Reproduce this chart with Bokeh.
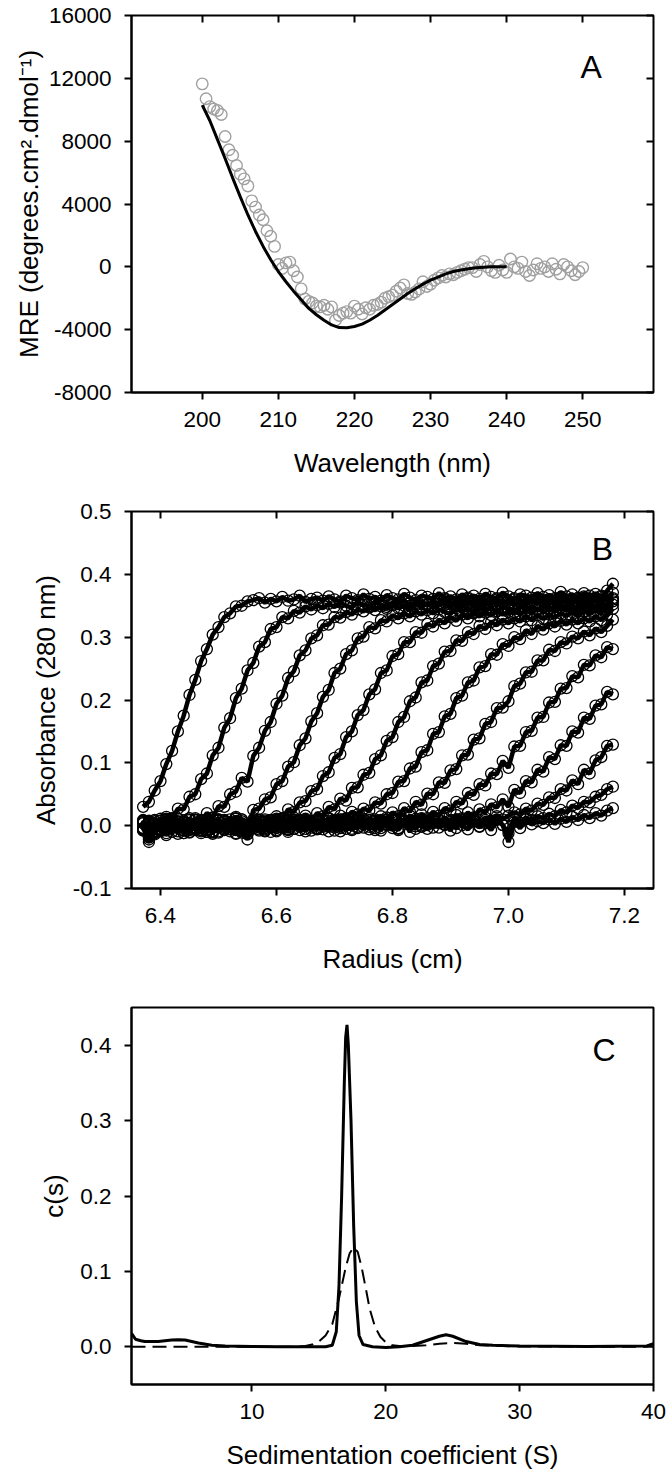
from bokeh.plotting import figure
from bokeh.models import Range1d, LinearAxis, FixedTicker, NumeralTickFormatter, Label, CustomLabelingPolicy
from bokeh.layouts import column
from bokeh.embed import file_html
from bokeh.resources import INLINE

FONT = "Liberation Sans"

# ---------------- Panel A: CD spectrum ----------------
cd_wavelength = [
    200.0, 200.5, 201.0, 201.5, 202.0, 202.5, 203.0, 203.5, 204.0, 204.5,
    205.0, 205.5, 206.0, 206.5, 207.0, 207.5, 208.0, 208.5, 209.0, 209.5,
    210.0, 210.5, 211.0, 211.5, 212.0, 212.5, 213.0, 213.5, 214.0, 214.5,
    215.0, 215.5, 216.0, 216.5, 217.0, 217.5, 218.0, 218.5, 219.0, 219.5,
    220.0, 220.5, 221.0, 221.5, 222.0, 222.5, 223.0, 223.5, 224.0, 224.5,
    225.0, 225.5, 226.0, 226.5, 227.0, 227.5, 228.0, 228.5, 229.0, 229.5,
    230.0, 230.5, 231.0, 231.5, 232.0, 232.5, 233.0, 233.5, 234.0, 234.5,
    235.0, 235.5, 236.0, 236.5, 237.0, 237.5, 238.0, 238.5, 239.0, 239.5,
    240.0, 240.5, 241.0, 241.5, 242.0, 242.5, 243.0, 243.5, 244.0, 244.5,
    245.0, 245.5, 246.0, 246.5, 247.0, 247.5, 248.0, 248.5, 249.0, 249.5,
    250.0]
cd_mre = [
    11650, 10700, 10200, 10050, 9950, 9700, 8300, 7450, 7100, 6450,
    5900, 5600, 5150, 4200, 3800, 3300, 3000, 2300, 1950, 1300,
    150, -100, 250, 300, -250, -650, -1400, -2050, -2200, -2300,
    -2500, -2550, -2450, -2700, -2550, -3400, -3100, -2950, -2850, -2950,
    -2500, -2700, -3000, -2600, -2700, -2450, -2400, -2250, -2000, -1900,
    -1800, -1550, -1350, -1150, -1700, -1750, -1600, -1400, -950, -1250,
    -1100, -850, -700, -550, -650, -450, -500, -350, -250, -150,
    -50, -50, -300, 150, 350, 0, -250, -350, 100, -200,
    -350, 500, 0, -100, 300, -300, -550, -200, 200, -100,
    0, -300, 200, -150, -450, 150, 0, -250, -500, -300,
    -50]
fit_wavelength = [200, 201, 202, 203, 204, 205, 206, 207, 208, 209,
                  210, 211, 212, 213, 214, 215, 216, 217, 218, 219,
                  220, 221, 222, 223, 224, 225, 226, 227, 228, 229,
                  230, 231, 232, 233, 234, 235, 236, 237, 238, 239, 240]
fit_mre = [10300, 9300, 8100, 6900, 5650, 4450, 3300, 2250, 1300, 450,
           -300, -950, -1550, -2100, -2650, -3050, -3400, -3700, -3870, -3880,
           -3800, -3650, -3400, -3100, -2750, -2400, -2050, -1700, -1400, -1100,
           -850, -650, -450, -300, -200, -120, -60, -20, 0, 0, 0]
a_xticks = [200, 210, 220, 230, 240, 250]
a_yticks = [-8000, -4000, 0, 4000, 8000, 12000, 16000]

# ---------------- Panel B: sedimentation velocity scans ----------------
radius = [
    6.37, 6.38, 6.39, 6.40, 6.41, 6.42, 6.43, 6.44, 6.45, 6.46,
    6.47, 6.48, 6.49, 6.50, 6.51, 6.52, 6.53, 6.54, 6.55, 6.56,
    6.57, 6.58, 6.59, 6.60, 6.61, 6.62, 6.63, 6.64, 6.65, 6.66,
    6.67, 6.68, 6.69, 6.70, 6.71, 6.72, 6.73, 6.74, 6.75, 6.76,
    6.77, 6.78, 6.79, 6.80, 6.81, 6.82, 6.83, 6.84, 6.85, 6.86,
    6.87, 6.88, 6.89, 6.90, 6.91, 6.92, 6.93, 6.94, 6.95, 6.96,
    6.97, 6.98, 6.99, 7.00, 7.01, 7.02, 7.03, 7.04, 7.05, 7.06,
    7.07, 7.08, 7.09, 7.10, 7.11, 7.12, 7.13, 7.14, 7.15, 7.16,
    7.17, 7.18]
scan_01 = [
    0.030, 0.038, 0.056, 0.071, 0.098, 0.119, 0.150, 0.175, 0.208, 0.232,
    0.262, 0.281, 0.304, 0.316, 0.332, 0.338, 0.349, 0.350, 0.357, 0.359,
    0.362, 0.355, 0.361, 0.357, 0.364, 0.358, 0.360, 0.366, 0.356, 0.361,
    0.363, 0.358, 0.365, 0.360, 0.357, 0.366, 0.362, 0.359, 0.368, 0.361,
    0.364, 0.358, 0.367, 0.362, 0.360, 0.369, 0.363, 0.359, 0.366, 0.364,
    0.361, 0.370, 0.362, 0.365, 0.360, 0.368, 0.363, 0.366, 0.361, 0.369,
    0.364, 0.362, 0.371, 0.365, 0.360, 0.368, 0.366, 0.363, 0.370, 0.364,
    0.367, 0.362, 0.372, 0.365, 0.368, 0.363, 0.370, 0.366, 0.369, 0.364,
    0.374, 0.385]
scan_02 = [
    -0.004, -0.022, 0.009, 0.003, 0.014, 0.012, 0.027, 0.026, 0.046, 0.050,
    0.074, 0.083, 0.112, 0.124, 0.156, 0.171, 0.203, 0.218, 0.247, 0.259,
    0.285, 0.292, 0.313, 0.316, 0.332, 0.330, 0.342, 0.339, 0.349, 0.344,
    0.351, 0.346, 0.353, 0.348, 0.355, 0.350, 0.347, 0.356, 0.351, 0.349,
    0.357, 0.352, 0.348, 0.355, 0.353, 0.359, 0.350, 0.354, 0.357, 0.351,
    0.356, 0.353, 0.360, 0.352, 0.357, 0.355, 0.361, 0.353, 0.358, 0.356,
    0.352, 0.360, 0.357, 0.354, 0.362, 0.356, 0.359, 0.355, 0.363, 0.357,
    0.360, 0.355, 0.364, 0.358, 0.361, 0.357, 0.365, 0.360, 0.358, 0.366,
    0.362, 0.371]
scan_03 = [
    0.008, -0.018, -0.012, 0.004, -0.006, 0.010, -0.003, 0.006, -0.001, 0.012,
    0.007, 0.020, 0.013, 0.031, 0.030, 0.050, 0.054, 0.076, 0.070, 0.111,
    0.124, 0.151, 0.165, 0.194, 0.207, 0.235, 0.246, 0.271, 0.279, 0.298,
    0.303, 0.319, 0.320, 0.332, 0.331, 0.340, 0.336, 0.344, 0.341, 0.347,
    0.343, 0.349, 0.345, 0.351, 0.346, 0.350, 0.344, 0.352, 0.348, 0.353,
    0.347, 0.351, 0.355, 0.348, 0.353, 0.350, 0.356, 0.349, 0.354, 0.352,
    0.357, 0.351, 0.355, 0.358, 0.352, 0.356, 0.353, 0.359, 0.355, 0.357,
    0.352, 0.360, 0.356, 0.358, 0.354, 0.361, 0.357, 0.359, 0.363, 0.356,
    0.365, 0.360]
scan_04 = [
    0.004, -0.026, -0.009, 0.011, -0.004, 0.007, -0.013, 0.002, 0.009, -0.007,
    0.005, -0.010, 0.012, 0.001, 0.008, 0.004, 0.014, 0.010, -0.014, 0.025,
    0.027, 0.042, 0.045, 0.066, 0.071, 0.094, 0.101, 0.128, 0.139, 0.166,
    0.179, 0.205, 0.216, 0.243, 0.250, 0.273, 0.279, 0.298, 0.301, 0.316,
    0.314, 0.327, 0.325, 0.335, 0.330, 0.338, 0.333, 0.341, 0.336, 0.343,
    0.338, 0.344, 0.340, 0.337, 0.346, 0.341, 0.345, 0.339, 0.347, 0.342,
    0.346, 0.341, 0.348, 0.344, 0.340, 0.349, 0.345, 0.347, 0.343, 0.350,
    0.345, 0.348, 0.351, 0.344, 0.349, 0.347, 0.352, 0.346, 0.350, 0.354,
    0.348, 0.357]
scan_05 = [
    -0.006, 0.003, -0.011, 0.008, -0.015, 0.005, 0.001, -0.008, 0.012, -0.003,
    -0.012, 0.006, -0.002, 0.010, -0.006, 0.003, 0.011, -0.005, -0.022, 0.006,
    -0.002, 0.010, 0.004, 0.015, 0.011, 0.026, 0.022, 0.037, 0.039, 0.055,
    0.058, 0.079, 0.085, 0.108, 0.114, 0.141, 0.150, 0.176, 0.184, 0.209,
    0.217, 0.243, 0.247, 0.270, 0.273, 0.292, 0.292, 0.308, 0.307, 0.321,
    0.317, 0.328, 0.322, 0.332, 0.326, 0.336, 0.330, 0.338, 0.333, 0.339,
    0.335, 0.341, 0.336, 0.340, 0.344, 0.337, 0.342, 0.339, 0.345, 0.340,
    0.344, 0.341, 0.347, 0.343, 0.346, 0.342, 0.349, 0.345, 0.348, 0.344,
    0.351, 0.362]
scan_06 = [
    0.007, -0.017, 0.002, -0.009, 0.010, -0.004, 0.006, -0.012, 0.003, 0.009,
    -0.007, 0.004, -0.013, 0.008, 0.000, -0.009, 0.012, 0.002, -0.008, -0.004,
    0.009, -0.006, 0.004, 0.011, -0.003, 0.008, 0.013, 0.004, 0.016, 0.008,
    0.020, 0.015, 0.030, 0.026, 0.043, 0.040, 0.060, 0.061, 0.081, 0.084,
    0.106, 0.112, 0.135, 0.141, 0.165, 0.173, 0.198, 0.204, 0.228, 0.231,
    0.254, 0.258, 0.277, 0.278, 0.295, 0.294, 0.308, 0.305, 0.318, 0.313,
    0.324, 0.319, 0.328, 0.322, 0.330, 0.325, 0.333, 0.327, 0.335, 0.329,
    0.336, 0.331, 0.338, 0.334, 0.340, 0.333, 0.341, 0.337, 0.343, 0.339,
    0.346, 0.352]
scan_07 = [
    -0.005, 0.008, -0.014, 0.004, -0.008, 0.011, -0.002, 0.006, -0.010, 0.001,
    0.009, -0.006, 0.003, -0.011, 0.007, 0.001, -0.004, 0.010, -0.006, 0.005,
    -0.008, 0.006, -0.003, 0.010, 0.002, -0.006, 0.008, 0.000, 0.011, 0.003,
    0.009, 0.002, 0.012, 0.006, 0.016, 0.012, 0.022, 0.018, 0.027, 0.024,
    0.037, 0.035, 0.050, 0.052, 0.070, 0.071, 0.091, 0.094, 0.117, 0.120,
    0.146, 0.149, 0.174, 0.178, 0.203, 0.207, 0.228, 0.231, 0.252, 0.254,
    0.273, 0.272, 0.289, 0.286, 0.300, 0.297, 0.311, 0.305, 0.318, 0.312,
    0.322, 0.317, 0.326, 0.320, 0.328, 0.322, 0.330, 0.325, 0.333, 0.327,
    0.336, 0.345]
scan_08 = [
    0.006, -0.019, 0.004, -0.007, 0.011, -0.003, 0.007, -0.012, 0.002, 0.009,
    -0.004, 0.005, -0.010, 0.008, -0.002, 0.006, -0.013, 0.004, -0.008, 0.010,
    0.001, -0.009, 0.007, -0.003, 0.012, 0.004, -0.005, 0.009, 0.000, 0.006,
    -0.004, 0.010, 0.002, 0.008, -0.001, 0.011, 0.004, 0.010, 0.002, 0.012,
    0.006, 0.015, 0.010, 0.021, 0.015, 0.028, 0.022, 0.038, 0.033, 0.051,
    0.050, 0.069, 0.068, 0.088, 0.090, 0.112, 0.113, 0.137, 0.139, 0.162,
    0.165, 0.187, 0.188, 0.198, 0.222, 0.226, 0.244, 0.245, 0.263, 0.263,
    0.280, 0.278, 0.292, 0.290, 0.301, 0.298, 0.309, 0.303, 0.314, 0.308,
    0.318, 0.328]
scan_09 = [
    -0.008, 0.006, -0.012, 0.003, -0.006, 0.010, -0.001, 0.005, -0.011, 0.004,
    0.008, -0.007, 0.002, -0.009, 0.006, 0.000, -0.012, 0.007, -0.013, 0.003,
    -0.006, 0.008, -0.002, 0.009, 0.003, -0.007, 0.010, 0.001, 0.006, -0.003,
    0.008, 0.000, 0.011, 0.003, -0.004, 0.009, 0.002, 0.012, 0.005, -0.002,
    0.010, 0.004, 0.013, 0.001, 0.011, 0.007, 0.016, 0.006, 0.018, 0.012,
    0.022, 0.016, 0.028, 0.024, 0.038, 0.035, 0.052, 0.049, 0.066, 0.064,
    0.083, 0.082, 0.103, 0.092, 0.126, 0.127, 0.149, 0.151, 0.172, 0.173,
    0.196, 0.197, 0.218, 0.219, 0.238, 0.236, 0.256, 0.255, 0.271, 0.268,
    0.284, 0.281]
scan_10 = [
    0.004, -0.015, 0.007, -0.005, 0.009, -0.010, 0.003, 0.008, -0.006, 0.001,
    -0.009, 0.006, -0.003, 0.010, -0.007, 0.004, 0.000, -0.011, -0.006, 0.005,
    0.002, -0.008, 0.009, -0.004, 0.006, -0.010, 0.003, 0.008, -0.005, 0.007,
    -0.006, 0.004, -0.009, 0.009, 0.001, -0.005, 0.010, -0.002, 0.007, 0.003,
    -0.007, 0.009, 0.002, -0.004, 0.011, 0.003, 0.008, -0.001, 0.012, 0.005,
    0.010, 0.004, 0.013, 0.006, 0.017, 0.010, 0.021, 0.013, 0.026, 0.021,
    0.034, 0.029, 0.042, 0.030, 0.057, 0.052, 0.071, 0.069, 0.089, 0.086,
    0.109, 0.106, 0.128, 0.127, 0.150, 0.148, 0.172, 0.170, 0.191, 0.193,
    0.213, 0.209]
scan_11 = [
    -0.007, 0.005, -0.011, 0.008, -0.003, 0.006, -0.009, 0.002, 0.010, -0.004,
    0.007, -0.010, 0.004, -0.002, 0.009, -0.006, 0.003, -0.008, -0.010, 0.000,
    0.006, -0.004, 0.009, -0.007, 0.002, 0.008, -0.005, 0.004, -0.009, 0.007,
    0.001, -0.006, 0.008, -0.003, 0.010, 0.000, -0.007, 0.006, 0.002, 0.009,
    -0.004, 0.007, 0.001, 0.010, -0.005, 0.006, 0.003, 0.011, -0.002, 0.008,
    0.004, 0.010, 0.001, 0.009, 0.003, 0.012, 0.006, 0.011, 0.004, 0.013,
    0.008, 0.015, 0.010, 0.016, 0.021, 0.018, 0.027, 0.024, 0.035, 0.033,
    0.045, 0.044, 0.058, 0.056, 0.072, 0.066, 0.089, 0.083, 0.104, 0.109,
    0.127, 0.129]
scan_12 = [
    0.009, -0.012, 0.002, -0.007, 0.006, -0.002, 0.011, -0.008, 0.004, -0.005,
    0.002, 0.008, -0.009, 0.005, -0.004, 0.010, -0.007, 0.001, -0.005, 0.007,
    -0.003, 0.005, -0.010, 0.007, 0.000, -0.006, 0.009, -0.002, 0.005, -0.008,
    0.006, -0.002, 0.004, -0.008, 0.007, 0.002, -0.005, 0.009, -0.003, 0.004,
    0.008, -0.004, 0.006, 0.000, -0.007, 0.009, 0.002, -0.005, 0.007, 0.001,
    -0.003, 0.008, 0.002, 0.006, -0.004, 0.010, 0.003, 0.007, -0.001, 0.009,
    0.004, 0.010, 0.001, -0.012, 0.012, 0.005, 0.013, 0.009, 0.015, 0.012,
    0.019, 0.015, 0.025, 0.021, 0.032, 0.028, 0.038, 0.037, 0.046, 0.049,
    0.058, 0.062]
scan_13 = [
    -0.004, 0.007, -0.009, 0.003, -0.012, 0.008, -0.001, 0.005, -0.007, 0.010,
    -0.002, 0.004, -0.011, 0.009, 0.001, -0.005, 0.007, -0.009, -0.009, 0.003,
    0.008, -0.001, 0.005, -0.009, 0.010, -0.003, 0.002, -0.007, 0.009, 0.000,
    -0.005, 0.009, -0.002, 0.005, -0.009, 0.007, 0.001, -0.004, 0.010, -0.006,
    0.003, -0.008, 0.009, 0.002, -0.004, 0.006, -0.010, 0.008, 0.000, -0.005,
    0.007, -0.003, 0.005, -0.008, 0.010, 0.001, -0.006, 0.008, -0.002, 0.004,
    -0.007, 0.009, 0.001, -0.026, 0.006, -0.004, 0.010, 0.002, 0.007, 0.004,
    0.010, 0.003, 0.011, 0.006, 0.014, 0.009, 0.017, 0.012, 0.020, 0.016,
    0.024, 0.028]
b_scans = [scan_01, scan_02, scan_03, scan_04, scan_05, scan_06, scan_07,
           scan_08, scan_09, scan_10, scan_11, scan_12, scan_13]
b_xticks = [6.4, 6.6, 6.8, 7.0, 7.2]
b_yticks = [-0.1, 0.0, 0.1, 0.2, 0.3, 0.4, 0.5]

# ---------------- Panel C: c(s) distributions ----------------
s_solid = [1.0, 1.3, 1.7, 2.0, 3.0, 4.0, 4.5, 5.0, 6.0, 7.0,
           8.0, 10.0, 12.0, 14.0, 15.5, 16.0, 16.3, 16.5, 16.7, 16.9,
           17.0, 17.1, 17.2, 17.4, 17.6, 17.8, 18.0, 18.3, 19.0, 20.0,
           21.0, 22.0, 23.0, 24.0, 24.5, 25.0, 26.0, 27.0, 28.0, 30.0,
           35.0, 39.5, 40.0]
c_solid = [0.018, 0.010, 0.008, 0.007, 0.007, 0.009, 0.0095, 0.009, 0.005, 0.002,
           0.001, 0.0005, 0.0, 0.0, 0.0, 0.002, 0.02, 0.08, 0.2, 0.35,
           0.41, 0.427, 0.40, 0.30, 0.16, 0.06, 0.015, 0.003, 0.0, -0.001,
           0.0, 0.002, 0.008, 0.014, 0.016, 0.014, 0.007, 0.003, 0.002, 0.001,
           0.0005, 0.001, 0.004]
s_dash = [1.0, 5.0, 10.0, 13.0, 14.0, 14.5, 15.0, 15.5, 16.0, 16.5,
          17.0, 17.3, 17.6, 17.9, 18.2, 18.5, 18.8, 19.2, 19.6, 20.0,
          20.5, 21.0, 22.0, 23.0, 24.0, 25.0, 26.0, 27.0, 30.0, 40.0]
c_dash = [0.0, 0.0, 0.0, 0.0, 0.001, 0.003, 0.007, 0.015, 0.030, 0.064,
          0.105, 0.124, 0.132, 0.126, 0.105, 0.078, 0.050, 0.026, 0.013, 0.006,
          0.002, 0.001, 0.001, 0.002, 0.004, 0.005, 0.004, 0.002, 0.0005, 0.0]
c_xticks = [10, 20, 30, 40]
c_yticks = [0.0, 0.1, 0.2, 0.3, 0.4]

TICK_FS = "22.5px"
TITLE_FS = "26px"
LETTER_FS = "32px"


def make_fig(height, top, bottom, xr, yr):
    p = figure(width=672, height=height, x_range=Range1d(*xr), y_range=Range1d(*yr),
               output_backend="svg", toolbar_location=None,
               min_border_left=131, min_border_right=19,
               min_border_top=top, min_border_bottom=bottom)
    p.grid.visible = False
    p.outline_line_color = "black"
    p.outline_line_width = 2
    p.background_fill_color = "white"
    p.border_fill_color = "white"
    return p


def style_axes(p, xt, yt, xfmt, yfmt, xlabel, ylabel, y_title_standoff, inner_ticks):
    for ax, ticks, fmt in ((p.xaxis[0], xt, xfmt), (p.yaxis[0], yt, yfmt)):
        ax.ticker = FixedTicker(ticks=ticks)
        ax.formatter = NumeralTickFormatter(format=fmt)
        ax.major_tick_out = 7
        ax.major_tick_in = 0
        ax.minor_tick_line_color = None
        ax.major_tick_line_width = 2
        ax.major_tick_line_color = "black"
        ax.axis_line_width = 2
        ax.axis_line_color = "black"
        ax.major_label_text_font = FONT
        ax.major_label_text_font_size = TICK_FS
        ax.major_label_text_color = "black"
        ax.axis_label_text_font = FONT
        ax.axis_label_text_font_size = TITLE_FS
        ax.axis_label_text_font_style = "normal"
        ax.axis_label_text_color = "black"
    p.xaxis[0].axis_label = xlabel
    p.yaxis[0].axis_label = ylabel
    p.xaxis[0].major_label_standoff = 12
    p.xaxis[0].axis_label_standoff = 18
    p.yaxis[0].major_label_standoff = 13
    p.yaxis[0].axis_label_standoff = y_title_standoff
    if inner_ticks:
        for loc, ticks in (("above", xt), ("right", yt)):
            ax = LinearAxis(ticker=FixedTicker(ticks=ticks), major_tick_in=7, major_tick_out=0,
                            major_tick_line_width=2, major_tick_line_color="black",
                            minor_tick_line_color=None, axis_line_color=None,
                            major_label_text_font_size="0px",
                            major_label_policy=CustomLabelingPolicy(code="return []"),
                            major_label_standoff=0)
            p.add_layout(ax, loc)


# Panel A
pA = make_fig(490, 15, 98, (190.7, 259.3), (-8000, 16000))
style_axes(pA, a_xticks, a_yticks, "0", "0", "Wavelength (nm)",
           "MRE (degrees.cm\u00b2.dmol\u207b\u00b9)", 2, True)
pA.scatter(cd_wavelength, cd_mre, marker="circle", size=11.5, fill_color=None,
           line_color="#a0a0a0", line_width=1.4)
pA.line(fit_wavelength, fit_mre, line_color="black", line_width=3)
pA.add_layout(Label(x=251.1, y=12750, text="A", text_align="center", text_baseline="middle",
                    text_font=FONT, text_font_size=LETTER_FS, text_color="black"))

# Panel B
pB = make_fig(500, 21, 102, (6.35, 7.25), (-0.1, 0.5))
style_axes(pB, b_xticks, b_yticks, "0.0", "0.0", "Radius (cm)", "Absorbance (280 nm)", 9, True)
for vals in b_scans:
    n = min(len(radius), len(vals))
    pB.line(radius[:n], vals[:n], line_color="black", line_width=4.5)
for vals in b_scans:
    n = min(len(radius), len(vals))
    pB.scatter(radius[:n], vals[:n], marker="circle", size=11, fill_color=None,
               line_color="black", line_width=1.3)
pB.add_layout(Label(x=7.162, y=0.44, text="B", text_align="center", text_baseline="middle",
                    text_font=FONT, text_font_size=LETTER_FS, text_color="black"))

# Panel C
pC = make_fig(488, 17, 94, (1.0, 40.0), (-0.05, 0.45))
style_axes(pC, c_xticks, c_yticks, "0", "0.0", "Sedimentation coefficient (S)", "c(s)", 8, False)
pC.line(s_dash, c_dash, line_color="black", line_width=2, line_dash="14 7")
pC.line(s_solid, c_solid, line_color="black", line_width=3)
pC.add_layout(Label(x=36.3, y=0.393, text="C", text_align="center", text_baseline="middle",
                    text_font=FONT, text_font_size=LETTER_FS, text_color="black"))

layout = column(pA, pB, pC)
open("out.html", "w").write(file_html(layout, INLINE))
